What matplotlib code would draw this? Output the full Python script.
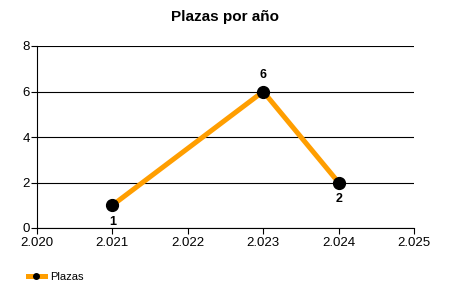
import matplotlib
matplotlib.use("Agg")
import matplotlib.pyplot as plt
from matplotlib.ticker import FuncFormatter
from matplotlib.lines import Line2D

years = [2021, 2023, 2024]
plazas = [1, 6, 2]
label_pos = ["below", "above", "below"]
x_ticks = [2020, 2021, 2022, 2023, 2024, 2025]
y_ticks = [0, 2, 4, 6, 8]

plt.rcParams['font.family'] = ['Liberation Sans', 'DejaVu Sans']

fig = plt.figure(figsize=(4.5, 3), dpi=100)
ax = fig.add_axes([37/450, 1-228/300, (414-37)/450, (228-46)/300])

orange = '#FF9E00'
ax.plot(years, plazas, color=orange, lw=3.6, marker='o', markersize=8.5,
        markerfacecolor='black', markeredgecolor='black', zorder=3, solid_capstyle='butt')

for x, y, p in zip(years, plazas, label_pos):
    off = -12 if p == "below" else 12
    ax.annotate(str(y), (x, y), xytext=(0, off), textcoords='offset points',
                ha='center', va='center', fontsize=9, fontweight='bold')

ax.set_xlim(2020, 2025)
ax.set_ylim(0, 8)
ax.set_xticks(x_ticks)
ax.set_yticks(y_ticks)
ax.xaxis.set_major_formatter(FuncFormatter(lambda v, p: f"{int(round(v))//1000}.{int(round(v))%1000:03d}"))
ax.yaxis.grid(True, color='black', lw=0.8)
ax.set_axisbelow(True)
for s in ['top', 'right']:
    ax.spines[s].set_visible(False)
for s in ['left', 'bottom']:
    ax.spines[s].set_linewidth(0.8)
ax.tick_params(axis='both', labelsize=9.5, length=4, width=0.8, pad=1)
ax.tick_params(axis='x', pad=2.5)

fig.text(0.5, 1-17/300, "Plazas por año", ha='center', va='center', fontsize=11, fontweight='bold')

handle = Line2D([], [], color=orange, lw=3.6, marker='o', markersize=4,
                markerfacecolor='black', markeredgecolor='black')
fig.legend([handle], ["Plazas"], loc='center left', bbox_to_anchor=(22/450, 1-277/300),
           frameon=False, fontsize=8, handlelength=1.6, handletextpad=0.4, borderpad=0)

fig.savefig("out.png", dpi=100)
